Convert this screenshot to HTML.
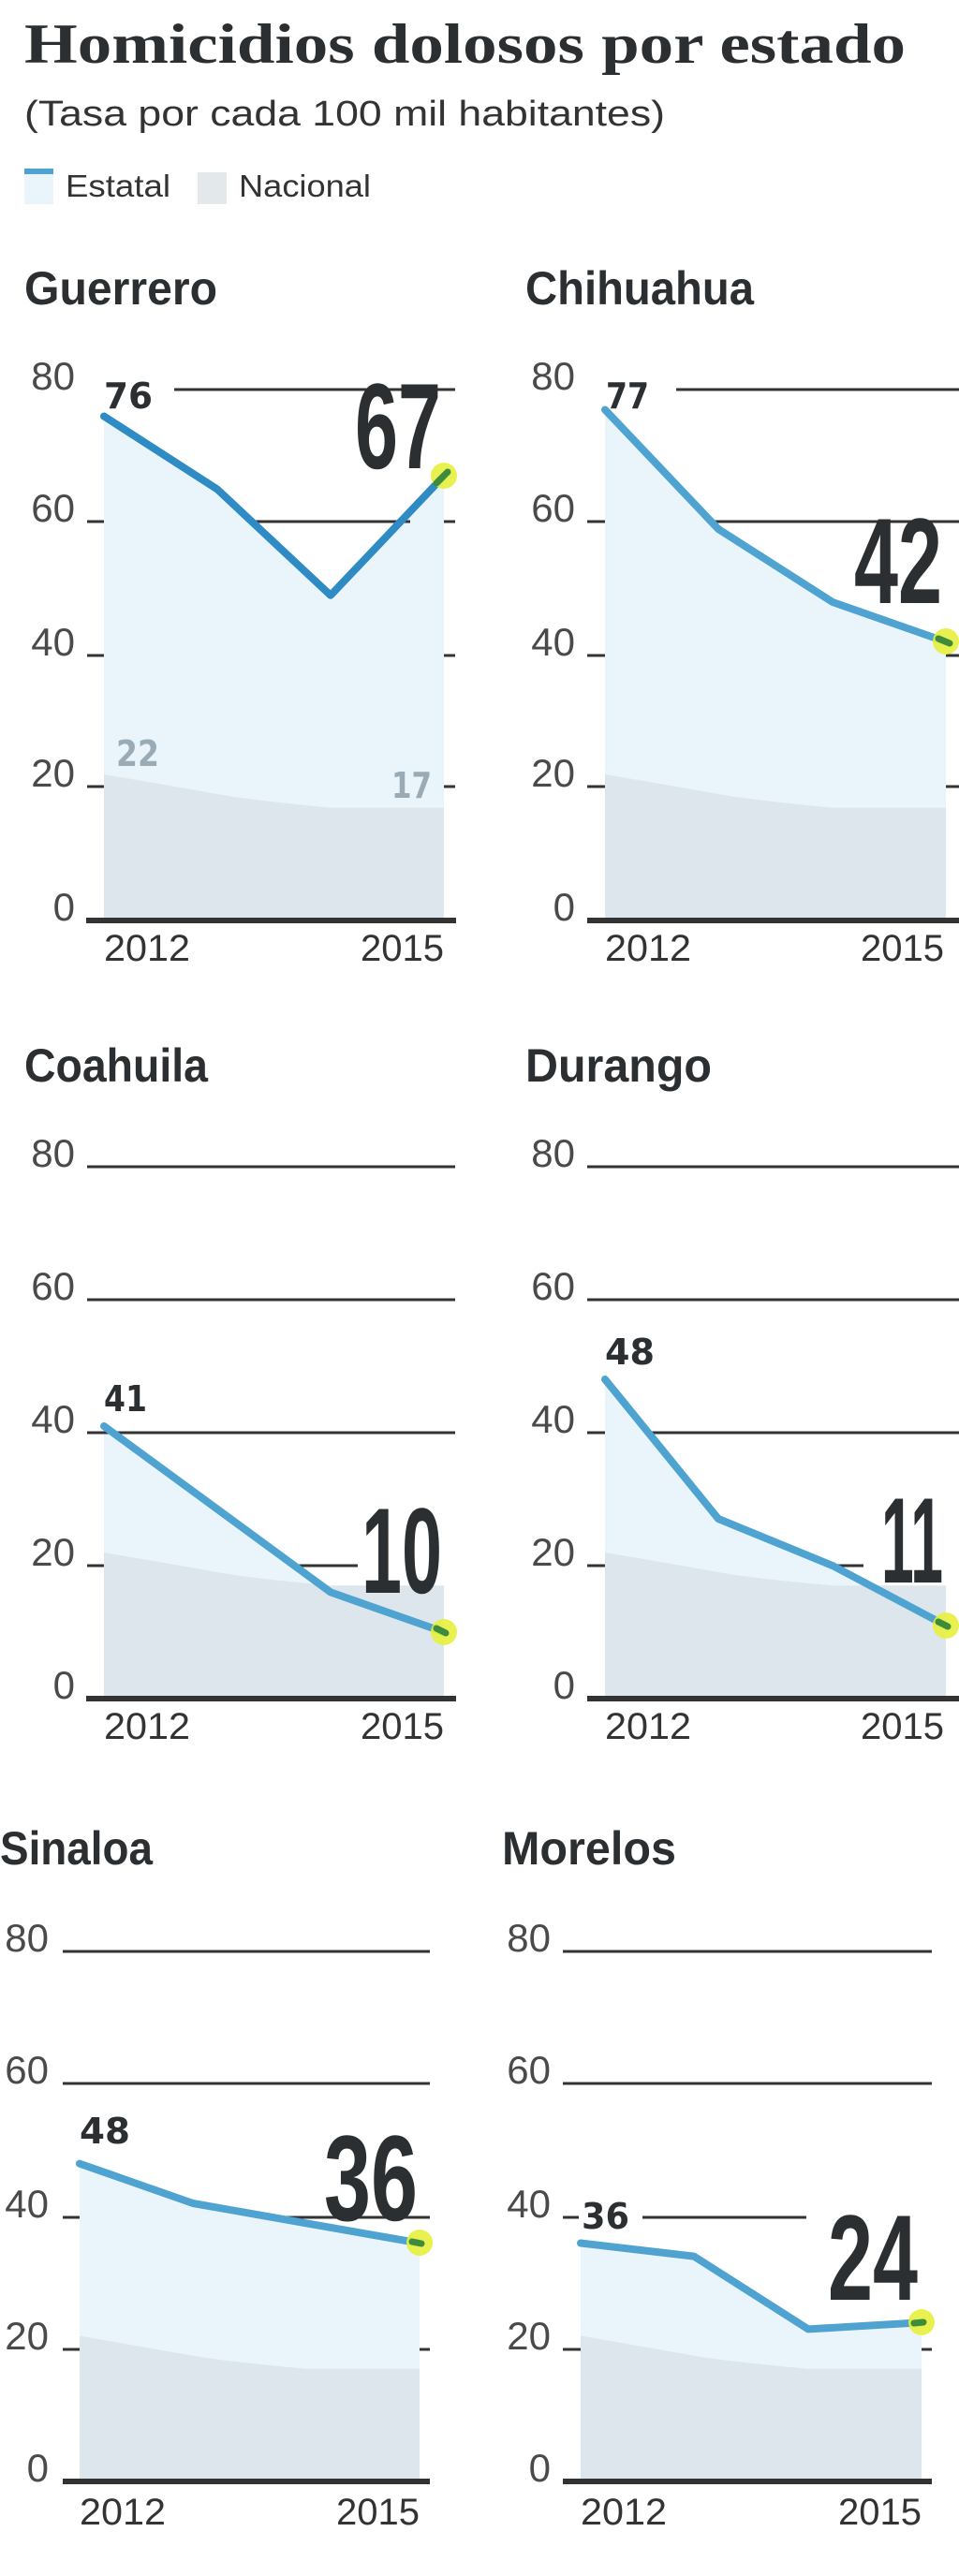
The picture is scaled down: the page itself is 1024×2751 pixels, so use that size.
<!DOCTYPE html>
<html><head><meta charset="utf-8"><style>
html,body{margin:0;padding:0;background:#fff;}
svg{display:block;}
.yl{font-family:"Liberation Sans",sans-serif;font-size:42px;fill:#4a4a4a;}
.yr{font-family:"Liberation Sans",sans-serif;font-size:40px;fill:#333;}
.tt{font-family:"Liberation Sans",sans-serif;font-weight:bold;font-size:50px;fill:#2c2f31;}
.sl{font-family:"DejaVu Sans","Liberation Sans",sans-serif;font-weight:bold;font-size:38px;fill:#2c2f31;}
.big{font-family:"Liberation Sans",sans-serif;font-weight:bold;font-size:130px;fill:#2c2f31;}
.g{stroke:#333;stroke-width:3;}
.ax{stroke:#333;stroke-width:6;}
.ln{fill:none;stroke:#4fa3d1;stroke-width:8;stroke-linejoin:round;stroke-linecap:round;}
</style></head><body>
<svg width="1024" height="2751" viewBox="0 0 1024 2751" xmlns="http://www.w3.org/2000/svg">
<rect width="1024" height="2751" fill="#fff"/>
<text x="26" y="67" font-family="Liberation Serif,serif" font-weight="bold" font-size="60" fill="#2c2f31" textLength="941" lengthAdjust="spacingAndGlyphs">Homicidios dolosos por estado</text>
<text x="26" y="134" font-family="Liberation Sans,sans-serif" font-size="38" fill="#333" textLength="684" lengthAdjust="spacingAndGlyphs">(Tasa por cada 100 mil habitantes)</text>
<rect x="26" y="184" width="31" height="34" fill="#eaf5fb"/><rect x="26" y="180" width="31" height="6" fill="#4fa3d1"/>
<text x="70" y="210" font-family="Liberation Sans,sans-serif" font-size="33" fill="#333" textLength="112" lengthAdjust="spacingAndGlyphs">Estatal</text>
<rect x="211" y="184" width="31" height="34" fill="#e3e8ea"/>
<text x="255" y="210" font-family="Liberation Sans,sans-serif" font-size="33" fill="#333" textLength="141" lengthAdjust="spacingAndGlyphs">Nacional</text>

<!-- Guerrero -->
<text class="tt" x="26" y="325" textLength="206" lengthAdjust="spacingAndGlyphs">Guerrero</text>
<text class="yl" x="80" y="416" text-anchor="end">80</text><text class="yl" x="80" y="557" text-anchor="end">60</text><text class="yl" x="80" y="700" text-anchor="end">40</text><text class="yl" x="80" y="840" text-anchor="end">20</text><text class="yl" x="80" y="983" text-anchor="end">0</text>
<line class="g" x1="186" y1="416" x2="486" y2="416"/>
<line class="g" x1="93" y1="700" x2="486" y2="700"/><line class="g" x1="93" y1="840" x2="486" y2="840"/><line class="g" x1="93" y1="557" x2="486" y2="557"/>
<polygon points="111,444.5 232,522.5 353,635.8 474,508.3 474,983 111,983" fill="#eaf5fb"/>
<line class="g" x1="275" y1="557" x2="438" y2="557"/>
<path d="M111,827 Q200,842 232,848 T353,862.6 L474,862.6 L474,983 L111,983Z" fill="#dce6ec"/>
<polyline class="ln" points="111,444.5 232,522.5 353,635.8 474,508.3" style="stroke:#2f8bc4"/>
<circle cx="474" cy="508" r="14" fill="#e6f03c" opacity=".9"/><line x1="466" y1="516" x2="478" y2="504" stroke="#3c8c3c" stroke-width="7" stroke-linecap="round"/>
<text class="sl" x="111" y="436" textLength="52" lengthAdjust="spacingAndGlyphs">76</text>
<text class="sl" x="124" y="818" style="fill:#9aabb5" textLength="46" lengthAdjust="spacingAndGlyphs">22</text>
<text class="sl" x="418" y="852" style="fill:#9aabb5" textLength="43" lengthAdjust="spacingAndGlyphs">17</text>
<text class="big" x="379" y="500" textLength="92" lengthAdjust="spacingAndGlyphs">67</text>
<line class="ax" x1="92" y1="983" x2="487" y2="983"/>
<text class="yr" x="111" y="1026" textLength="92" lengthAdjust="spacingAndGlyphs">2012</text>
<text class="yr" x="474" y="1026" text-anchor="end">2015</text>

<!-- Chihuahua -->
<text class="tt" x="561" y="325" textLength="244" lengthAdjust="spacingAndGlyphs">Chihuahua</text>
<text class="yl" x="614" y="416" text-anchor="end">80</text><text class="yl" x="614" y="557" text-anchor="end">60</text><text class="yl" x="614" y="700" text-anchor="end">40</text><text class="yl" x="614" y="840" text-anchor="end">20</text><text class="yl" x="614" y="983" text-anchor="end">0</text>
<line class="g" x1="722" y1="416" x2="1024" y2="416"/>
<line class="g" x1="627" y1="557" x2="1024" y2="557"/><line class="g" x1="627" y1="700" x2="1024" y2="700"/><line class="g" x1="627" y1="840" x2="1024" y2="840"/>
<polygon points="646,437.5 767,565 889,643 1010,685.4 1010,983 646,983" fill="#eaf5fb"/>
<line class="g" x1="758" y1="557" x2="886" y2="557"/>
<path d="M646,827 Q735,842 767,848 T889,862.6 L1010,862.6 L1010,983 L646,983Z" fill="#dce6ec"/>
<polyline class="ln" points="646,437.5 767,565 889,643 1010,685.4"/>
<circle cx="1010" cy="685" r="14" fill="#e6f03c" opacity=".9"/><line x1="1002" y1="682" x2="1014" y2="687" stroke="#3c8c3c" stroke-width="7" stroke-linecap="round"/>
<text class="sl" x="647" y="436" textLength="46" lengthAdjust="spacingAndGlyphs">77</text>
<text class="big" x="912" y="644" textLength="94" lengthAdjust="spacingAndGlyphs">42</text>
<line class="ax" x1="627" y1="983" x2="1024" y2="983"/>
<text class="yr" x="646" y="1026" textLength="92" lengthAdjust="spacingAndGlyphs">2012</text>
<text class="yr" x="1008" y="1026" text-anchor="end">2015</text>

<!-- Coahuila -->
<text class="tt" x="26" y="1155" textLength="196" lengthAdjust="spacingAndGlyphs">Coahuila</text>
<text class="yl" x="80" y="1246" text-anchor="end">80</text><text class="yl" x="80" y="1388" text-anchor="end">60</text><text class="yl" x="80" y="1530" text-anchor="end">40</text><text class="yl" x="80" y="1672" text-anchor="end">20</text><text class="yl" x="80" y="1814" text-anchor="end">0</text>
<line class="g" x1="93" y1="1246" x2="486" y2="1246"/><line class="g" x1="93" y1="1388" x2="486" y2="1388"/><line class="g" x1="93" y1="1672" x2="111" y2="1672"/>
<polygon points="111,1523 232,1611.6 353,1700.4 474,1743 474,1814 111,1814" fill="#eaf5fb"/>
<line class="g" x1="93" y1="1530" x2="486" y2="1530"/>
<line class="g" x1="312" y1="1672" x2="382" y2="1672"/>
<path d="M111,1658 Q200,1673 232,1679 T353,1693.3 L474,1693.3 L474,1814 L111,1814Z" fill="#dce6ec"/>
<polyline class="ln" points="111,1523 232,1611.6 353,1700.4 474,1743"/>
<circle cx="474" cy="1743" r="14" fill="#e6f03c" opacity=".9"/><line x1="466" y1="1739" x2="476" y2="1744" stroke="#3c8c3c" stroke-width="7" stroke-linecap="round"/>
<text class="sl" x="111" y="1507" textLength="46" lengthAdjust="spacingAndGlyphs">41</text>
<text class="big" x="386" y="1701" textLength="86" lengthAdjust="spacingAndGlyphs">10</text>
<line class="ax" x1="92" y1="1814" x2="487" y2="1814"/>
<text class="yr" x="111" y="1857" textLength="92" lengthAdjust="spacingAndGlyphs">2012</text>
<text class="yr" x="474" y="1857" text-anchor="end">2015</text>

<!-- Durango -->
<text class="tt" x="561" y="1155" textLength="199" lengthAdjust="spacingAndGlyphs">Durango</text>
<text class="yl" x="614" y="1246" text-anchor="end">80</text><text class="yl" x="614" y="1388" text-anchor="end">60</text><text class="yl" x="614" y="1530" text-anchor="end">40</text><text class="yl" x="614" y="1672" text-anchor="end">20</text><text class="yl" x="614" y="1814" text-anchor="end">0</text>
<line class="g" x1="627" y1="1246" x2="1024" y2="1246"/><line class="g" x1="627" y1="1388" x2="1024" y2="1388"/><line class="g" x1="627" y1="1530" x2="646" y2="1530"/><line class="g" x1="627" y1="1672" x2="646" y2="1672"/>
<polygon points="646,1473 767,1622 889,1672 1010,1736 1010,1814 646,1814" fill="#eaf5fb"/>
<line class="g" x1="693" y1="1530" x2="1024" y2="1530"/><line class="g" x1="886" y1="1672" x2="922" y2="1672"/>
<path d="M646,1658 Q735,1673 767,1679 T889,1693.3 L1010,1693.3 L1010,1814 L646,1814Z" fill="#dce6ec"/>
<polyline class="ln" points="646,1473 767,1622 889,1672 1010,1736"/>
<circle cx="1010" cy="1736" r="14" fill="#e6f03c" opacity=".9"/><line x1="1002" y1="1732" x2="1012" y2="1737" stroke="#3c8c3c" stroke-width="7" stroke-linecap="round"/>
<text class="sl" x="646" y="1457" textLength="53" lengthAdjust="spacingAndGlyphs">48</text>
<text class="big" x="941" y="1690" textLength="66" lengthAdjust="spacingAndGlyphs">11</text>
<line class="ax" x1="627" y1="1814" x2="1024" y2="1814"/>
<text class="yr" x="646" y="1857" textLength="92" lengthAdjust="spacingAndGlyphs">2012</text>
<text class="yr" x="1008" y="1857" text-anchor="end">2015</text>

<!-- Sinaloa -->
<text class="tt" x="0" y="1991" textLength="163" lengthAdjust="spacingAndGlyphs">Sinaloa</text>
<text class="yl" x="52" y="2084" text-anchor="end">80</text><text class="yl" x="52" y="2225" text-anchor="end">60</text><text class="yl" x="52" y="2368" text-anchor="end">40</text><text class="yl" x="52" y="2509" text-anchor="end">20</text><text class="yl" x="52" y="2650" text-anchor="end">0</text>
<line class="g" x1="67" y1="2084" x2="459" y2="2084"/><line class="g" x1="67" y1="2225" x2="459" y2="2225"/>
<line class="g" x1="67" y1="2368" x2="459" y2="2368"/><line class="g" x1="67" y1="2509" x2="459" y2="2509"/>
<polygon points="85,2310.6 206,2353 327,2374.3 448,2395.5 448,2650 85,2650" fill="#eaf5fb"/>
<line class="g" x1="278" y1="2368" x2="325" y2="2368"/>
<path d="M85,2494.5 Q174,2510 206,2515.7 T327,2529.8 L448,2529.8 L448,2650 L85,2650Z" fill="#dce6ec"/>
<polyline class="ln" points="85,2310.6 206,2353 327,2374.3 448,2395.5"/>
<circle cx="448" cy="2395" r="14" fill="#e6f03c" opacity=".9"/><line x1="440" y1="2394" x2="450" y2="2396" stroke="#3c8c3c" stroke-width="7" stroke-linecap="round"/>
<text class="sl" x="85" y="2289" textLength="54" lengthAdjust="spacingAndGlyphs">48</text>
<text class="big" x="346" y="2371" textLength="100" lengthAdjust="spacingAndGlyphs">36</text>
<line class="ax" x1="67" y1="2650" x2="459" y2="2650"/>
<text class="yr" x="85" y="2696" textLength="92" lengthAdjust="spacingAndGlyphs">2012</text>
<text class="yr" x="448" y="2696" text-anchor="end">2015</text>

<!-- Morelos -->
<text class="tt" x="536" y="1991" textLength="186" lengthAdjust="spacingAndGlyphs">Morelos</text>
<text class="yl" x="588" y="2084" text-anchor="end">80</text><text class="yl" x="588" y="2225" text-anchor="end">60</text><text class="yl" x="588" y="2368" text-anchor="end">40</text><text class="yl" x="588" y="2509" text-anchor="end">20</text><text class="yl" x="588" y="2650" text-anchor="end">0</text>
<line class="g" x1="601" y1="2084" x2="995" y2="2084"/><line class="g" x1="601" y1="2225" x2="995" y2="2225"/>
<line class="g" x1="601" y1="2368" x2="618" y2="2368"/><line class="g" x1="686" y1="2368" x2="861" y2="2368"/>
<line class="g" x1="601" y1="2509" x2="995" y2="2509"/>
<polygon points="620,2395.5 741,2409.6 863,2487.4 984,2480.3 984,2650 620,2650" fill="#eaf5fb"/>
<line class="g" x1="984" y1="2509" x2="995" y2="2509"/>
<path d="M620,2494.5 Q709,2510 741,2515.7 T863,2529.8 L984,2529.8 L984,2650 L620,2650Z" fill="#dce6ec"/>
<polyline class="ln" points="620,2395.5 741,2409.6 863,2487.4 984,2480.3"/>
<circle cx="984" cy="2480" r="14" fill="#e6f03c" opacity=".9"/><line x1="976" y1="2481" x2="986" y2="2480" stroke="#3c8c3c" stroke-width="7" stroke-linecap="round"/>
<text class="sl" x="621" y="2380" textLength="51" lengthAdjust="spacingAndGlyphs">36</text>
<text class="big" x="884" y="2456" textLength="96" lengthAdjust="spacingAndGlyphs">24</text>
<line class="ax" x1="601" y1="2650" x2="995" y2="2650"/>
<text class="yr" x="620" y="2696" textLength="92" lengthAdjust="spacingAndGlyphs">2012</text>
<text class="yr" x="984" y="2696" text-anchor="end">2015</text>
</svg>
</body></html>
